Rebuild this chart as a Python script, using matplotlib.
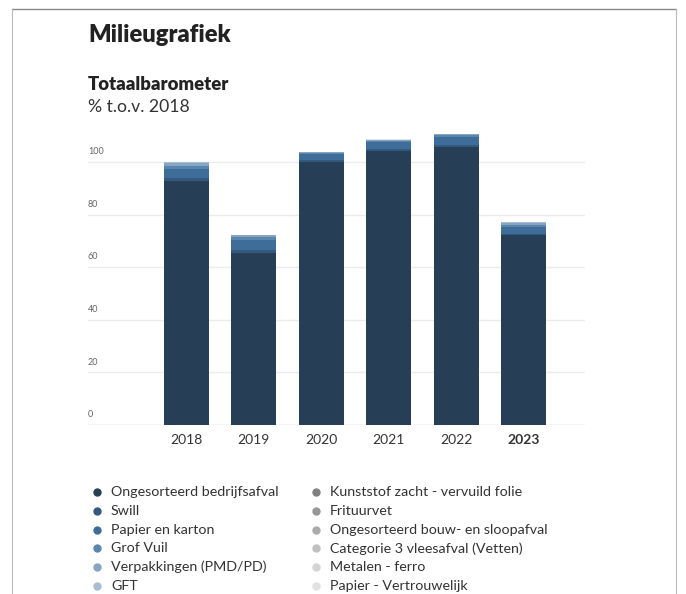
import matplotlib.pyplot as plt
from matplotlib.lines import Line2D
from matplotlib.transforms import blended_transform_factory

plt.rcParams['font.family'] = ['Lato', 'DejaVu Sans']

years = ['2018', '2019', '2020', '2021', '2022', '2023']

series_names = [
    'Ongesorteerd bedrijfsafval', 'Swill', 'Papier en karton', 'Grof Vuil',
    'Verpakkingen (PMD/PD)', 'GFT',
    'Kunststof zacht - vervuild folie', 'Frituurvet',
    'Ongesorteerd bouw- en sloopafval', 'Categorie 3 vleesafval (Vetten)',
    'Metalen - ferro', 'Papier - Vertrouwelijk',
]

# % t.o.v. 2018
ongesorteerd = [92.8, 65.5, 99.9, 104.0, 105.8, 72.2]
swill = [1.0, 1.2, 0.8, 0.8, 0.8, 0.6]
papier_karton = [3.7, 3.7, 2.2, 2.7, 2.9, 2.6]
grof_vuil = [1.1, 1.0, 0.5, 0.6, 0.6, 0.8]
verpakkingen = [0.9, 0.7, 0.4, 0.3, 0.4, 0.7]
gft = [0.4, 0.2, 0.1, 0.1, 0.1, 0.2]
kunststof = [0.02, 0.01, 0.01, 0.01, 0.01, 0.01]
frituurvet = [0.01, 0.01, 0.01, 0.01, 0.01, 0.01]
bouw_sloop = [0.01, 0.01, 0.01, 0.01, 0.01, 0.01]
vleesafval = [0.01, 0.01, 0.01, 0.01, 0.01, 0.01]
metalen = [0.01, 0.01, 0.01, 0.01, 0.01, 0.01]
papier_vertr = [0.01, 0.01, 0.01, 0.01, 0.01, 0.01]

series_values = [ongesorteerd, swill, papier_karton, grof_vuil, verpakkingen, gft,
                 kunststof, frituurvet, bouw_sloop, vleesafval, metalen, papier_vertr]

colors = ['#263f57', '#33597e', '#3f6d99', '#5a86ae', '#86a5c4', '#a9bdd2',
          '#808080', '#969696', '#ababab', '#c0c0c0', '#d4d4d4', '#e2e2e2']

yticks = [0, 20, 40, 60, 80, 100]

fig = plt.figure(figsize=(6.86, 5.94), dpi=100)
W, H = 686, 594

# axes in pixel coords: x 88..585, y0 at 425, 100 at 162
ymax = 115
top_px = 425 - ymax * 2.63
ax = fig.add_axes([88 / W, 1 - 425 / H, (585 - 88) / W, (425 - top_px) / H])

x = list(range(len(years)))
bottom = [0] * len(years)
for vals, col in zip(series_values, colors):
    ax.bar(x, vals, width=0.667, bottom=bottom, color=col, linewidth=0, zorder=3)
    bottom = [b + v for b, v in zip(bottom, vals)]

ax.set_xlim(-1.452, 5.91)
ax.set_ylim(0, ymax)

for s in ax.spines.values():
    s.set_visible(False)
ax.set_yticks([])
ax.set_xticks([])

trans = blended_transform_factory(ax.transAxes, ax.transData)
for t in yticks:
    lc = '#c8c8c8' if t == 0 else '#ececec'
    ax.axhline(t, color=lc, linewidth=1.0, zorder=1)
    ax.text(0.0, t + 2.2, str(t), transform=trans, fontsize=6.5, color='#666666',
            ha='left', va='bottom')

for i, yr in enumerate(years):
    ax.text(i, -5.8, yr, fontsize=10, color='#333333', ha='center', va='center',
            fontweight='bold' if yr == '2023' else 'normal')

# titles
fig.text(88 / W, 1 - 35 / H, 'Milieugrafiek', fontsize=17, fontweight='heavy',
         color='#222222', ha='left', va='center')
fig.text(88 / W, 1 - 85 / H, 'Totaalbarometer', fontsize=13.3, fontweight='heavy',
         color='#222222', ha='left', va='center')
fig.text(88 / W, 1 - 107 / H, '% t.o.v. 2018', fontsize=12.7, color='#333333',
         ha='left', va='center')

# legend, two columns, six rows
for k, (name, col) in enumerate(zip(series_names, colors)):
    colm, row = divmod(k, 6)
    yp = 492 + row * 18.8
    xm = 97 + colm * 219
    fig.add_artist(Line2D([xm / W], [1 - yp / H], marker='o', markersize=5,
                          color=col, linestyle='none'))
    fig.text((xm + 14) / W, 1 - yp / H, name, fontsize=10.3, color='#333333',
             ha='left', va='center')

# frame
fig.add_artist(Line2D([12 / W, 676 / W], [1 - 9 / H, 1 - 9 / H], color='#888888', linewidth=1))
fig.add_artist(Line2D([12 / W, 12 / W], [0, 1 - 9 / H], color='#bbbbbb', linewidth=0.8))
fig.add_artist(Line2D([676 / W, 676 / W], [0, 1 - 9 / H], color='#bbbbbb', linewidth=0.8))

fig.savefig('out.png', dpi=100)
